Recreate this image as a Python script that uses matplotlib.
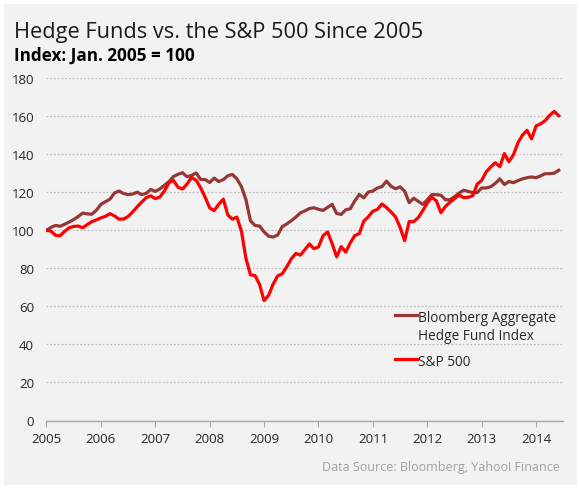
import matplotlib
matplotlib.use("Agg")
import matplotlib.pyplot as plt
from matplotlib.patches import Rectangle
from matplotlib.lines import Line2D
import numpy as np

# Monthly index values, Jan 2005 .. Jun 2014 (Jan 2005 = 100)
years = ["2005", "2006", "2007", "2008", "2009", "2010", "2011", "2012", "2013", "2014"]

hedge_fund = [
    100, 101.5, 102.5, 102.1, 103.1, 104.3, 105.6, 107.2, 109.0, 108.6, 108.4, 110.5,
    113.6, 115.0, 116.3, 119.6, 120.6, 119.3, 118.7, 119.0, 120.0, 118.7, 119.4, 121.4,
    120.4, 121.7, 123.6, 125.5, 128.2, 129.4, 130.2, 128.1, 128.8, 130.1, 126.7, 126.6,
    125.1, 127.4, 125.6, 126.6, 128.6, 129.3, 127.0, 122.9, 116.0, 104.9, 102.5, 102.2,
    99.1, 96.9, 96.4, 97.5, 101.9, 103.3, 105.0, 106.9, 109.1, 110.2, 111.4, 111.8,
    111.0, 110.4, 112.0, 113.6, 108.8, 108.3, 110.7, 111.3, 115.4, 118.8, 117.0, 120.1,
    120.6, 122.2, 122.9, 125.8, 123.1, 121.8, 122.8, 120.5, 114.5, 116.8, 115.2, 113.6,
    116.0, 118.7, 118.7, 118.4, 116.0, 116.0, 117.6, 119.5, 121.0, 120.4, 119.8, 119.8,
    122.2, 122.2, 122.9, 124.6, 127.0, 124.0, 125.6, 125.0, 126.1, 127.0, 127.6, 128.0,
    127.6, 128.6, 129.7, 129.7, 130.0, 131.5,
]

sp500 = [
    100, 99.5, 97.3, 97.1, 99.4, 101.3, 102.0, 102.2, 101.3, 103.0, 104.5, 105.4,
    106.5, 107.3, 108.7, 107.5, 105.8, 105.9, 107.2, 109.6, 112.3, 114.8, 117.1, 118.1,
    116.6, 117.4, 120.6, 124.9, 126.2, 122.6, 121.6, 124.3, 127.7, 126.3, 122.3, 117.3,
    111.7, 110.3, 113.7, 116.3, 108.0, 105.8, 106.9, 99.5, 85.1, 76.5, 76.2, 71.5,
    63.0, 65.8, 71.7, 76.0, 77.1, 80.8, 85.0, 87.8, 86.9, 89.8, 92.8, 90.3,
    91.2, 97.1, 99.1, 93.0, 86.0, 91.4, 88.5, 93.3, 97.2, 98.2, 104.8, 107.1,
    110.0, 110.9, 113.8, 111.9, 109.6, 107.0, 101.5, 94.5, 104.5, 104.5, 106.6, 110.3,
    114.4, 117.3, 115.4, 109.2, 112.5, 114.7, 116.6, 118.5, 117.1, 117.3, 118.1, 124.2,
    126.2, 130.7, 133.3, 135.5, 133.4, 140.3, 136.0, 139.7, 146.0, 150.0, 152.5, 148.0,
    154.8, 155.9, 157.6, 160.4, 162.4, 160.2,
]

labels = ["Bloomberg Aggregate\nHedge Fund Index", "S&P 500"]
y_ticks = [0, 20, 40, 60, 80, 100, 120, 140, 160, 180]

BG = "#F2F2F2"
BROWN = "#953735"
RED = "#FF0000"
TXT = "#262626"
FONT = "Open Sans"

W, H = 580, 489
fig = plt.figure(figsize=(W / 100, H / 100), dpi=100)
fig.patch.set_facecolor("white")
fig.add_artist(Rectangle((4 / W, 1 - 486 / H), 573 / W, 481 / H,
                         transform=fig.transFigure, facecolor=BG, edgecolor="none", zorder=-10))

left, right, top, bottom = 46.5, 563.3, 79, 421.5
ax = fig.add_axes([left / W, 1 - bottom / H, (right - left) / W, (bottom - top) / H])
ax.set_facecolor("none")

x = np.arange(len(sp500))
ax.plot(x, hedge_fund, color=BROWN, lw=2.3, solid_joinstyle="round", zorder=3)
ax.plot(x, sp500, color=RED, lw=2.3, solid_joinstyle="round", zorder=4)

ax.set_xlim(0, 114)
ax.set_ylim(0, 180)
ax.set_yticks(y_ticks)
ax.set_yticklabels([str(v) for v in y_ticks], fontsize=9.5, color=TXT, family=FONT)
ax.set_xticks(np.arange(len(years)) * 12)
ax.set_xticklabels(years, fontsize=9.5, color=TXT, family=FONT)
ax.tick_params(axis="y", length=0, pad=9)
ax.tick_params(axis="x", length=4, color="#A6A6A6", direction="out", pad=4)

for s in ["top", "right", "left"]:
    ax.spines[s].set_visible(False)
ax.spines["bottom"].set_color("#A6A6A6")
ax.spines["bottom"].set_linewidth(1.0)

ax.yaxis.grid(True, linestyle=(0, (1.5, 1.5)), color="#BFBFBF", lw=0.9)
ax.set_axisbelow(True)

# legend drawn by hand (handle aligned with first text line, as in the reference)
def fx(px):
    return px / W

def fy(py):
    return 1 - py / H

for (ypx, col, lab) in [(316, BROWN, labels[0]), (360, RED, labels[1])]:
    fig.add_artist(Line2D([fx(395), fx(417)], [fy(ypx), fy(ypx)], color=col, lw=2.3,
                          transform=fig.transFigure))
    fig.text(fx(418), fy(ypx - 5.2), lab, fontsize=9.8, color=TXT, family=FONT,
             va="top", ha="left", linespacing=1.25)

fig.text(14 / W, 1 - 38 / H, "Hedge Funds vs. the S&P 500 Since 2005", fontsize=15.7,
         color="#1a1a1a", family=FONT, va="baseline", ha="left")
fig.text(14 / W, 1 - 61 / H, "Index: Jan. 2005 = 100", fontsize=12.3, fontweight="bold",
         color="black", family=FONT, va="baseline", ha="left")
fig.text(560 / W, 1 - 471 / H, "Data Source: Bloomberg, Yahoo! Finance", fontsize=9,
         color="#A0A0A0", family=FONT, va="baseline", ha="right")

fig.savefig("out.png", dpi=100, facecolor=fig.get_facecolor())
